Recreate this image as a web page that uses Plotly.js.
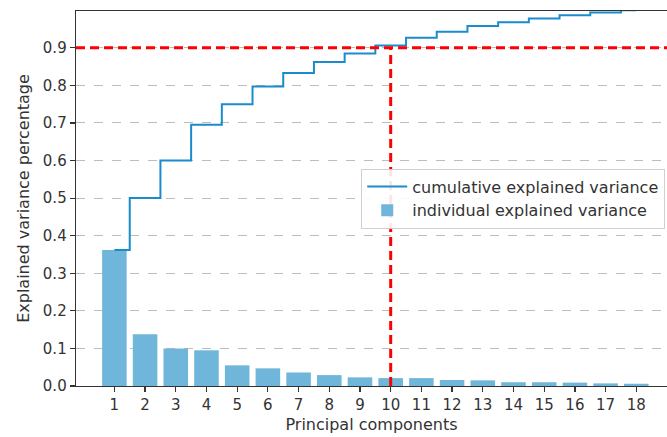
<!DOCTYPE html>
<html>
<head>
<meta charset="utf-8">
<script src="https://cdn.plot.ly/plotly-3.0.1.min.js"></script>
<style>html,body{margin:0;padding:0;background:#fff;}#chart{width:667px;height:437px;}</style>
</head>
<body>
<div id="chart"></div>
<script>
// Data
const components = [1,2,3,4,5,6,7,8,9,10,11,12,13,14,15,16,17,18];
const individualVariance = [0.362,0.138,0.100,0.095,0.055,0.047,0.036,0.029,0.023,0.021,0.021,0.016,0.015,0.010,0.010,0.009,0.007,0.006];
const cumulativeVariance = [0.362,0.500,0.600,0.695,0.750,0.797,0.833,0.862,0.885,0.906,0.927,0.943,0.958,0.968,0.978,0.987,0.994,1.000];
const threshold = 0.9;
const chosenComponents = 10;
const xTickLabels = components.map(String);
const yTickVals = [0,0.1,0.2,0.3,0.4,0.5,0.6,0.7,0.8,0.9];
const yTickLabels = ['0.0','0.1','0.2','0.3','0.4','0.5','0.6','0.7','0.8','0.9'];

const font = {family: 'DejaVu Sans, sans-serif', color: '#333', size: 16};

const traces = [
  {
    type: 'scatter', mode: 'lines', x: components, y: cumulativeVariance,
    line: {shape: 'hvh', color: '#1a8ccc', width: 2},
    name: 'cumulative explained variance', legendrank: 1
  },
  {
    type: 'bar', x: components, y: individualVariance, width: 0.8,
    marker: {color: '#6fb6da', line: {width: 0}},
    name: 'individual explained variance', legendrank: 2
  },
  {
    type: 'scatter', mode: 'lines', x: [chosenComponents, chosenComponents], y: [0, threshold],
    line: {color: '#ff0000', width: 3, dash: '9px,5px'}, showlegend: false, hoverinfo: 'skip'
  }
];

const layout = {
  width: 667, height: 437,
  margin: {l: 76, r: 0, t: 11, b: 51},
  paper_bgcolor: '#fff', plot_bgcolor: '#fff',
  font: font,
  bargap: 0.2,
  showlegend: true,
  legend: {
    x: 0.997, xanchor: 'right', y: 0.58, yanchor: 'top',
    bgcolor: 'rgba(255,255,255,0.9)', bordercolor: '#d0d0d0', borderwidth: 1,
    font: {family: 'DejaVu Sans, sans-serif', color: '#333', size: 16},
    tracegroupgap: 0, itemwidth: 40
  },
  xaxis: {
    range: [-0.25, 19.0], tickmode: 'array', tickvals: components, ticktext: xTickLabels,
    showline: true, linecolor: '#333', linewidth: 1.3, mirror: true,
    ticks: 'outside', ticklen: 5, tickcolor: '#333', tickwidth: 1.2,
    showgrid: false, zeroline: false,
    tickfont: {size: 15, color: '#333'},
    title: {text: 'Principal components', font: {size: 16, color: '#333'}, standoff: 5}
  },
  yaxis: {
    range: [0, 0.998], tickmode: 'array', tickvals: yTickVals, ticktext: yTickLabels,
    showline: true, linecolor: '#333', linewidth: 1.3,
    ticks: 'outside', ticklen: 5, tickcolor: '#333', tickwidth: 1.2,
    showgrid: true, gridcolor: '#bdbdbd', griddash: 'dash', gridwidth: 1,
    zeroline: false,
    tickfont: {size: 15, color: '#333'},
    title: {text: 'Explained variance percentage', font: {size: 16, color: '#333'}, standoff: 9}
  },
  shapes: [
    {type: 'line', xref: 'paper', yref: 'y', x0: 0, x1: 1, y0: threshold, y1: threshold,
     line: {color: '#ff0000', width: 3, dash: '9px,5px'}, layer: 'above'}
  ]
};

Plotly.newPlot('chart', traces, layout, {displayModeBar: false, staticPlot: true});
</script>
</body>
</html>
